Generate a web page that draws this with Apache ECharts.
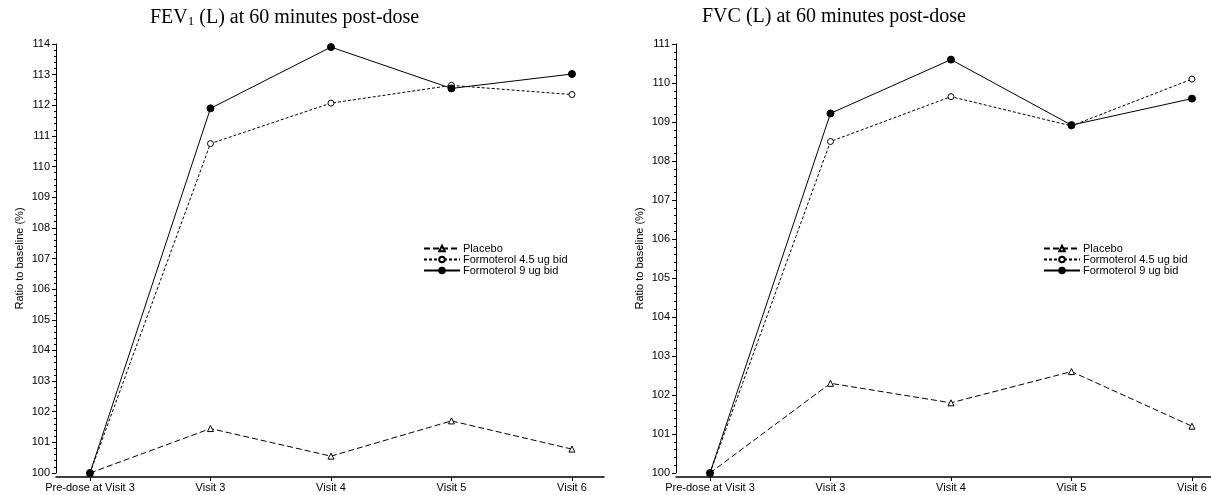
<!DOCTYPE html>
<html>
<head>
<meta charset="utf-8">
<script src="https://cdn.jsdelivr.net/npm/echarts@6/dist/echarts.min.js"></script>
<style>
  html, body { margin: 0; padding: 0; background: #fff; }
  #main { width: 1211px; height: 495px; }
</style>
</head>
<body>
<div id="main"></div>
<script>
// visits on the x axis
var visits = ['Pre-dose at Visit 3', 'Visit 3', 'Visit 4', 'Visit 5', 'Visit 6'];
var groups = ['Placebo', 'Formoterol 4.5 ug bid', 'Formoterol 9 ug bid'];

// FEV1 ratio to baseline (%)
var fevPlacebo = [100, 101.45, 100.55, 101.7, 100.78];
var fevF45 = [100, 110.75, 112.07, 112.65, 112.35];
var fevF9 = [100, 111.9, 113.9, 112.55, 113.02];

// FVC ratio to baseline (%)
var fvcPlacebo = [100, 102.3, 101.8, 102.6, 101.2];
var fvcF45 = [100, 108.5, 109.65, 108.9, 110.1];
var fvcF9 = [100, 109.22, 110.6, 108.92, 109.6];

var sans = 'Liberation Sans, Arial, sans-serif';
var serif = 'Liberation Serif, Times New Roman, serif';

function pts(arr) {
  return arr.map(function (v, i) { return [i, v]; });
}

// line + marker look for each treatment group
var looks = [
  { symbol: 'triangle', size: 6, fill: '#fff', type: [6, 3] },
  { symbol: 'circle', size: 6, fill: '#fff', type: [3, 2] },
  { symbol: 'circle', size: 7, fill: '#000', type: 'solid' }
];

function mkSeries(name, data, look, idx) {
  return {
    name: name,
    type: 'line',
    xAxisIndex: idx,
    yAxisIndex: idx,
    data: pts(data),
    symbol: look.symbol,
    symbolSize: look.size,
    showAllSymbols: true,
    lineStyle: { color: '#000', width: 1, type: look.type },
    itemStyle: { color: look.fill, borderColor: '#000', borderWidth: 1 },
    emphasis: { disabled: true },
    z: 3 + idx
  };
}

function xAxisFor(idx, max) {
  return {
    type: 'value',
    gridIndex: idx,
    min: -0.282,
    max: max,
    offset: 4,
    splitLine: { show: false },
    axisLine: { show: true, onZero: false, lineStyle: { color: '#000', width: 1.5 } },
    axisTick: { show: true, customValues: [0, 1, 2, 3, 4], length: 4, lineStyle: { color: '#000' } },
    axisLabel: {
      customValues: [0, 1, 2, 3, 4],
      formatter: function (v) { return visits[Math.round(v)]; },
      color: '#000', fontFamily: sans, fontSize: 11, margin: 5
    }
  };
}

function yAxisFor(idx, max) {
  return {
    type: 'value',
    gridIndex: idx,
    min: 100,
    max: max,
    interval: 1,
    name: 'Ratio to baseline (%)',
    nameLocation: 'middle',
    nameRotate: 90,
    nameGap: 31,
    nameTextStyle: { color: '#000', fontFamily: sans, fontSize: 11 },
    splitLine: { show: false },
    axisLine: { show: true, onZero: false, lineStyle: { color: '#000', width: 1 } },
    axisTick: { show: true, length: 4, lineStyle: { color: '#000' } },
    minorTick: { show: true, splitNumber: 5, length: 2, lineStyle: { color: '#000' } },
    axisLabel: { color: '#000', fontFamily: sans, fontSize: 11, margin: 6 }
  };
}

function legendFor(left) {
  return {
    data: groups,
    orient: 'vertical',
    left: left,
    top: 238,
    itemGap: 0,
    itemWidth: 36,
    itemHeight: 7,
    selectedMode: false,
    textStyle: { color: '#000', fontFamily: sans, fontSize: 11, padding: [0, 0, 0, -2], lineHeight: 10 }
  };
}

var chart = echarts.init(document.getElementById('main'), null, { renderer: 'canvas' });

chart.setOption({
  animation: false,
  backgroundColor: '#fff',
  title: [
    {
      text: '{a|FEV}{s|1}{a| (L) at 60 minutes post-dose}',
      left: 145, top: 2,
      textStyle: {
        fontWeight: 'normal',
        rich: {
          a: { fontFamily: serif, fontSize: 20, fontWeight: 'normal', color: '#000' },
          s: { fontFamily: serif, fontSize: 13, fontWeight: 'normal', color: '#000', verticalAlign: 'bottom', padding: [8, 0, 0, 0] }
        }
      }
    },
    {
      text: 'FVC (L) at 60 minutes post-dose',
      left: 697, top: 2,
      textStyle: { fontFamily: serif, fontSize: 20, fontWeight: 'normal', color: '#000' }
    }
  ],
  legend: [legendFor(418), legendFor(1038)],
  grid: [
    { left: 56, top: 44, width: 548, height: 429 },
    { left: 676, top: 44, width: 535, height: 429 }
  ],
  xAxis: [xAxisFor(0, 4.266), xAxisFor(1, 4.158)],
  yAxis: [yAxisFor(0, 114), yAxisFor(1, 111)],
  series: [
    mkSeries(groups[0], fevPlacebo, looks[0], 0),
    mkSeries(groups[1], fevF45, looks[1], 0),
    mkSeries(groups[2], fevF9, looks[2], 0),
    mkSeries(groups[0], fvcPlacebo, looks[0], 1),
    mkSeries(groups[1], fvcF45, looks[1], 1),
    mkSeries(groups[2], fvcF9, looks[2], 1)
  ]
});
</script>
</body>
</html>
